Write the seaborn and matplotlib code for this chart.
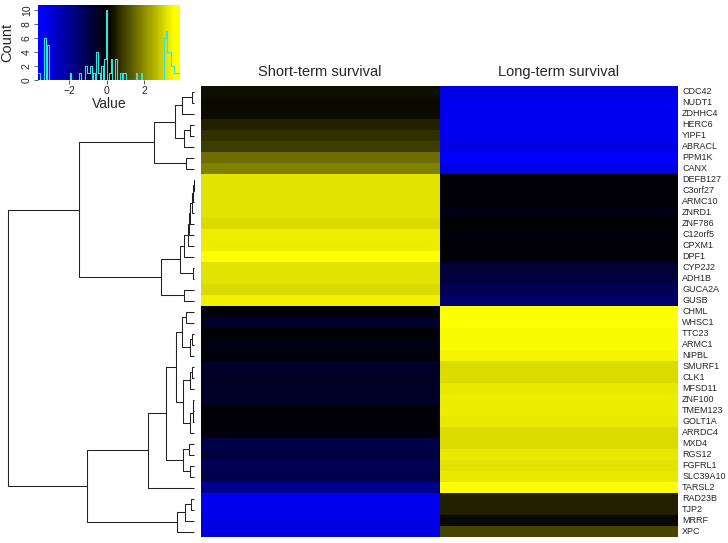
import numpy as np
import pandas as pd
import matplotlib
matplotlib.use("Agg")
import matplotlib.pyplot as plt
import seaborn as sns
from matplotlib.colors import LinearSegmentedColormap

sns.set_theme(style="white")
plt.rcParams['font.family'] = ['Liberation Sans', 'DejaVu Sans']

# ---- data ----
genes = ["CDC42", "NUDT1", "ZDHHC4", "HERC6", "YIPF1", "ABRACL", "PPM1K", "CANX",
         "DEFB127", "C3orf27", "ARMC10", "ZNRD1", "ZNF786", "C12orf5", "CPXM1", "DPF1",
         "CYP2J2", "ADH1B", "GUCA2A", "GUSB",
         "CHML", "WHSC1", "TTC23", "ARMC1", "NIPBL", "SMURF1", "CLK1", "MFSD11",
         "ZNF100", "TMEM123", "GOLT1A", "ARRDC4", "MXD4", "RGS12", "FGFRL1", "SLC39A10",
         "TARSL2", "RAD23B", "TJP2", "MRRF", "XPC"]
conditions = ["Short-term survival", "Long-term survival"]

short_term = [0.27, 0.20, 0.20, 0.52, 0.72, 0.90, 1.55, 1.85,
              3.19, 3.19, 3.19, 3.19, 3.10, 3.35, 3.35, 3.72,
              3.19, 3.19, 3.10, 3.40,
              -0.11, -0.52, -0.02, -0.25, -0.11, -0.55, -0.45, -0.48,
              -0.52, -0.02, -0.02, -0.02, -0.95, -0.82, -1.12, -1.03,
              -1.94, -3.29, -3.25, -3.13, -3.10]
long_term = [-3.10, -3.29, -3.29, -3.29, -3.27, -3.13, -3.62, -3.12,
             -0.02, -0.02, -0.02, -0.25, -0.02, -0.11, -0.02, -0.02,
             -0.70, -0.82, -1.12, -1.44,
             3.86, 3.63, 3.50, 3.52, 3.45, 3.10, 3.10, 3.27,
             3.35, 3.35, 3.27, 3.10, 3.10, 3.27, 3.19, 3.27,
             3.76, 0.52, 0.50, 0.17, 1.00]

key_range = (-3.67, 3.9)
colour_range = (-3.5, 3.6)

# row dendrogram: (left, right, height); leaves are rows 0..40,
# merge number k becomes node 41 + k
merges = [
    (0, 1, 0.23), (41, 2, 1.23), (3, 4, 0.40), (43, 5, 0.97), (42, 44, 1.90),
    (6, 7, 0.80), (45, 46, 3.97),
    (8, 9, 0.03), (48, 10, 0.06), (49, 11, 0.23), (50, 12, 0.40), (51, 13, 0.47),
    (52, 14, 0.63), (53, 15, 0.97), (16, 17, 0.13), (54, 55, 1.40), (18, 19, 0.95),
    (56, 57, 3.30), (47, 58, 11.50),
    (20, 21, 0.83), (22, 23, 0.17), (61, 24, 0.40), (60, 62, 1.23),
    (25, 26, 0.15), (64, 27, 0.43), (28, 29, 0.05), (66, 30, 0.12), (67, 31, 0.35),
    (65, 68, 1.07), (63, 69, 1.83),
    (32, 33, 0.47), (34, 35, 0.40), (71, 72, 1.07), (70, 73, 2.83), (74, 36, 4.63),
    (37, 38, 0.33), (76, 39, 0.90), (77, 40, 1.73), (75, 78, 10.73),
    (59, 79, 18.57),
]

df = pd.DataFrame({conditions[0]: short_term, conditions[1]: long_term}, index=genes)
cmap = LinearSegmentedColormap.from_list("bby", ["blue", "black", "yellow"])

W, H = 728, 543
fig = plt.figure(figsize=(W / 100, H / 100), dpi=100)

def box(x0, y0, x1, y1):
    return [x0 / W, 1 - y1 / H, (x1 - x0) / W, (y1 - y0) / H]

# ---- heatmap ----
ax_hm = fig.add_axes(box(201, 86, 678, 537))
sns.heatmap(df, ax=ax_hm, cmap=cmap, vmin=colour_range[0], vmax=colour_range[1],
            cbar=False, xticklabels=True, yticklabels=True)
ax_hm.xaxis.tick_top()
ax_hm.yaxis.tick_right()
ax_hm.tick_params(axis='x', length=0, pad=5, labelsize=10.5)
ax_hm.tick_params(axis='y', length=0, pad=3, labelsize=6.5, labelrotation=0)
for lab in ax_hm.get_yticklabels():
    lab.set_verticalalignment('center')
ax_hm.set_xlabel("")
ax_hm.set_ylabel("")

# ---- row dendrogram ----
ax_dn = fig.add_axes(box(8, 86, 194, 537))
n = len(genes)
ypos = {i: i + 0.5 for i in range(n)}
hpos = {i: 0.0 for i in range(n)}
for k, (a, b, h) in enumerate(merges):
    for c in (a, b):
        ax_dn.plot([hpos[c], h], [ypos[c], ypos[c]], color='#222222', lw=0.75,
                   solid_capstyle='butt', clip_on=False)
    ax_dn.plot([h, h], [ypos[a], ypos[b]], color='#222222', lw=0.75, clip_on=False)
    ypos[n + k] = (ypos[a] + ypos[b]) / 2
    hpos[n + k] = h
ax_dn.set_xlim(merges[-1][2], 0)
ax_dn.set_ylim(n, 0)
ax_dn.axis('off')

# ---- colour key with histogram ----
ax_key = fig.add_axes(box(38, 5, 180, 80))
edges = np.linspace(key_range[0], key_range[1], 91)
centers = (edges[:-1] + edges[1:]) / 2
values = np.concatenate([short_term, long_term])
counts, _ = np.histogram(values, bins=edges)
ytop = counts.max() / 0.935
ax_key.pcolormesh(edges, [0, ytop], centers[None, :], cmap=cmap,
                  vmin=colour_range[0], vmax=colour_range[1], shading='flat')
ax_key.step(edges, np.append(counts, counts[-1]), where='post', color='#33e5e0', lw=0.8)
ax_key.set_xlim(key_range)
ax_key.set_ylim(0, ytop)
ax_key.set_xticks([-2, 0, 2])
ax_key.set_yticks(range(0, 11, 2))
ax_key.tick_params(axis='both', length=3, width=0.6, direction='out', labelsize=7.5,
                   color='#444444', pad=1.5, bottom=True, left=True)
ax_key.tick_params(axis='y', labelrotation=90)
for lab in ax_key.get_yticklabels():
    lab.set_verticalalignment('center')
for s in ax_key.spines.values():
    s.set_visible(False)
ax_key.set_xlabel("Value", fontsize=10, labelpad=0)
ax_key.set_ylabel("Count", fontsize=10.5, labelpad=0)
ax_key.xaxis.set_label_coords(0.5, -0.22)
ax_key.yaxis.set_label_coords(-0.17, 0.5)

fig.savefig("out.png", dpi=100)
